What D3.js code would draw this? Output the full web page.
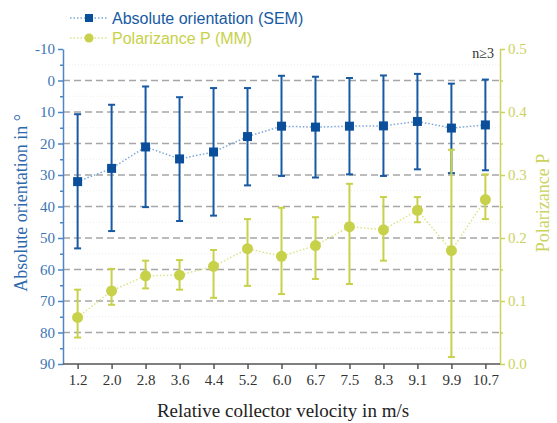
<!DOCTYPE html>
<html>
<head>
<meta charset="utf-8">
<script src="https://cdn.jsdelivr.net/npm/d3@7"></script>
<style>
  body { margin: 0; background: #fff; }
  svg text { font-family: "Liberation Serif", "DejaVu Serif", serif; }
</style>
</head>
<body>
<div id="chart"></div>
<script>
// categories and values
var velocity   = ["1.2", "2.0", "2.8", "3.6", "4.4", "5.2", "6.0", "6.7", "7.5", "8.3", "9.1", "9.9", "10.7"];
var orient     = [32.1, 27.9, 21.1, 24.9, 22.7, 17.8, 14.5, 14.8, 14.5, 14.4, 13.0, 15.1, 14.1];
var orientLow  = [10.7, 7.7, 1.9, 5.3, 2.4, 2.4, -1.5, -1.2, -0.8, -1.6, -2.1, 1.0, -0.3];
var orientHigh = [53.3, 47.8, 40.2, 44.6, 42.9, 33.3, 30.3, 30.8, 29.8, 30.3, 28.2, 29.4, 28.5];
var polar      = [0.074, 0.116, 0.140, 0.141, 0.155, 0.183, 0.171, 0.188, 0.218, 0.213, 0.244, 0.180, 0.261];
var polarLow   = [0.042, 0.094, 0.120, 0.118, 0.105, 0.124, 0.111, 0.135, 0.127, 0.164, 0.225, 0.011, 0.230];
var polarHigh  = [0.118, 0.151, 0.164, 0.165, 0.181, 0.230, 0.248, 0.233, 0.286, 0.265, 0.265, 0.340, 0.301];
var gridVals   = [0, 10, 20, 30, 40, 50, 60, 70, 80];

var W = 557, H = 423;
// plot box (note: "top" is a reserved window global, so use other names)
var pLeft = 63, pRight = 500, pTop = 49, pBottom = 364;

var blue = "#175aa3", blueLight = "#7fa8d8", blueAxis = "#4f85c4";
var yel = "#c8d14a", yelLight = "#dde48a", yelAxis = "#cbd35e";

var svg = d3.select("#chart").append("svg")
    .attr("width", W).attr("height", H);

// scales
var x = d3.scalePoint().domain(velocity).range([pLeft, pRight]).padding(0.43);
var yL = d3.scaleLinear().domain([90, -10]).range([pBottom, pTop]);
var yR = d3.scaleLinear().domain([0, 0.5]).range([pBottom, pTop]);

// faint minor grid
svg.append("g").selectAll("line")
    .data(gridVals.map(function (d) { return d + 5; }).concat([-5]))
    .enter().append("line")
    .attr("x1", pLeft).attr("x2", pRight)
    .attr("y1", function (d) { return yL(d); }).attr("y2", function (d) { return yL(d); })
    .attr("stroke", "#ececec").attr("stroke-width", 1).attr("stroke-dasharray", "1,2");

// dashed grid
svg.append("g").selectAll("line")
    .data(gridVals).enter().append("line")
    .attr("x1", pLeft).attr("x2", pRight)
    .attr("y1", function (d) { return yL(d); }).attr("y2", function (d) { return yL(d); })
    .attr("stroke", "#a6a6a6").attr("stroke-width", 1.5).attr("stroke-dasharray", "7,4");

// left axis
var gL = svg.append("g").attr("transform", "translate(" + pLeft + ",0)")
    .call(d3.axisLeft(yL).tickValues(d3.range(-10, 91, 5)).tickSize(5).tickSizeOuter(0)
        .tickFormat(function (d) { return d % 10 === 0 ? d : ""; }));
gL.select(".domain").attr("stroke", blueAxis).attr("stroke-width", 1.5);
gL.selectAll(".tick line").attr("stroke", blueAxis).attr("stroke-width", 1.5)
    .attr("x2", function (d) { return d % 10 === 0 ? -5 : -3; });
gL.selectAll(".tick text").attr("fill", "#3d74b4").attr("font-size", 15)
    .attr("font-family", "Liberation Serif").attr("x", -8);

// right axis
var gR = svg.append("g").attr("transform", "translate(" + pRight + ",0)")
    .call(d3.axisRight(yR).tickValues(d3.range(0, 0.501, 0.05)).tickSize(5).tickSizeOuter(0)
        .tickFormat(function (d, i) { return i % 2 === 0 ? d3.format(".1f")(d) : ""; }));
gR.select(".domain").attr("stroke", yelAxis).attr("stroke-width", 1.5);
gR.selectAll(".tick line").attr("stroke", yelAxis).attr("stroke-width", 1.5)
    .attr("x2", function (d, i) { return i % 2 === 0 ? 5 : 3; });
gR.selectAll(".tick text").attr("fill", yelAxis).attr("font-size", 15)
    .attr("font-family", "Liberation Serif").attr("x", 8);

// bottom axis
var gB = svg.append("g").attr("transform", "translate(0," + pBottom + ")")
    .call(d3.axisBottom(x).tickSize(5).tickSizeOuter(0));
gB.select(".domain").attr("stroke", "#555").attr("stroke-width", 1.5)
    .attr("d", "M" + pLeft + ",0H" + pRight);
gB.selectAll(".tick line").attr("stroke", "#555").attr("stroke-width", 1.5);
gB.selectAll(".tick text").attr("fill", "#333").attr("font-size", 15)
    .attr("font-family", "Liberation Serif").attr("y", 10);

// series drawing helper
function drawSeries(vals, lo, hi, y, col, lineCol, marker) {
    var g = svg.append("g");
    g.append("path")
        .datum(vals)
        .attr("fill", "none").attr("stroke", lineCol).attr("stroke-width", 1.5)
        .attr("stroke-dasharray", "1.5,2")
        .attr("d", d3.line().x(function (d, i) { return x(velocity[i]); }).y(function (d) { return y(d); }));
    var eb = g.selectAll(".eb").data(vals).enter().append("g");
    eb.append("line")
        .attr("x1", function (d, i) { return x(velocity[i]); })
        .attr("x2", function (d, i) { return x(velocity[i]); })
        .attr("y1", function (d, i) { return y(lo[i]); })
        .attr("y2", function (d, i) { return y(hi[i]); })
        .attr("stroke", col).attr("stroke-width", 2);
    [lo, hi].forEach(function (arr) {
        eb.append("line")
            .attr("x1", function (d, i) { return x(velocity[i]) - 3.5; })
            .attr("x2", function (d, i) { return x(velocity[i]) + 3.5; })
            .attr("y1", function (d, i) { return y(arr[i]); })
            .attr("y2", function (d, i) { return y(arr[i]); })
            .attr("stroke", col).attr("stroke-width", 2);
    });
    if (marker === "square") {
        g.selectAll(".m").data(vals).enter().append("rect")
            .attr("x", function (d, i) { return x(velocity[i]) - 4.5; })
            .attr("y", function (d) { return y(d) - 4.5; })
            .attr("width", 9).attr("height", 9).attr("fill", "#0b4f9b");
    } else {
        g.selectAll(".m").data(vals).enter().append("circle")
            .attr("cx", function (d, i) { return x(velocity[i]); })
            .attr("cy", function (d) { return y(d); })
            .attr("r", 5.5).attr("fill", col);
    }
}

drawSeries(orient, orientLow, orientHigh, yL, blue, blueLight, "square");
drawSeries(polar, polarLow, polarHigh, yR, yel, yelLight, "circle");

// legend
var leg = svg.append("g");
[["Absolute orientation (SEM)", blueLight, "#0b4f9b", blue, 18, "square"],
 ["Polarizance P (MM)", yelLight, yel, yel, 38, "circle"]].forEach(function (l) {
    leg.append("line").attr("x1", 70).attr("x2", 108).attr("y1", l[4]).attr("y2", l[4])
        .attr("stroke", l[1]).attr("stroke-width", 1.5).attr("stroke-dasharray", "1.5,2");
    if (l[5] === "square") {
        leg.append("rect").attr("x", 85).attr("y", l[4] - 4).attr("width", 8).attr("height", 8).attr("fill", l[2]);
    } else {
        leg.append("circle").attr("cx", 89).attr("cy", l[4]).attr("r", 4.5).attr("fill", l[2]);
    }
    leg.append("text").attr("x", 112).attr("y", l[4] + 5.5)
        .attr("fill", l[3]).attr("font-size", 16)
        .style("font-family", "Liberation Sans, Arial, sans-serif")
        .text(l[0]);
});

// n>=3 note
svg.append("text").attr("x", 494).attr("y", 58).attr("text-anchor", "end")
    .attr("font-size", 14).attr("fill", "#333")
    .text("n≥3");

// axis titles
svg.append("text").attr("transform", "translate(27,203) rotate(-90)")
    .attr("text-anchor", "middle").attr("font-size", 18).attr("fill", "#2d68ad")
    .text("Absolute orientation in °");
svg.append("text").attr("transform", "translate(549,203) rotate(-90)")
    .attr("text-anchor", "middle").attr("font-size", 18).attr("fill", yelAxis)
    .text("Polarizance P");
svg.append("text").attr("x", 283).attr("y", 417)
    .attr("text-anchor", "middle").attr("font-size", 19).attr("fill", "#222")
    .text("Relative collector velocity in m/s");
</script>
</body>
</html>
